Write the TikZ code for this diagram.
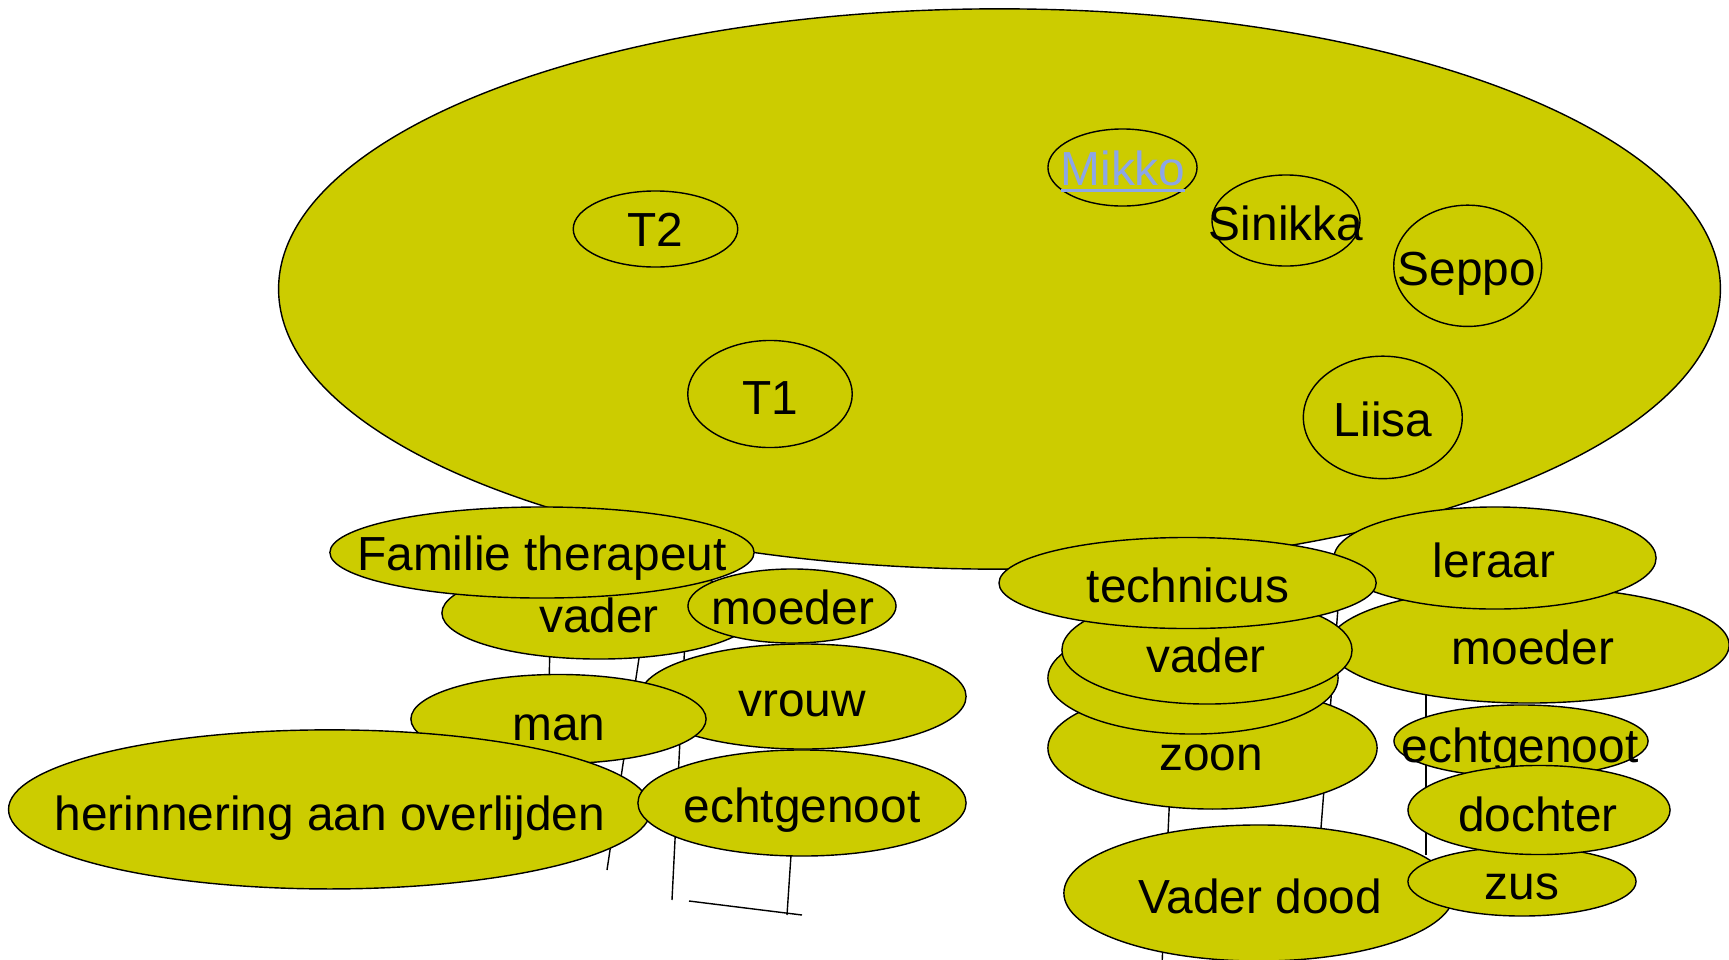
\documentclass[tikz,border=0pt]{standalone}
\usepackage{fontspec}
\setmainfont{Liberation Sans}
\usetikzlibrary{shapes.geometric}
\definecolor{olivefill}{RGB}{204,204,0}
\definecolor{linkblue}{RGB}{140,166,230}
\newcommand\bubble[5]{%
  \node[bub, minimum width=#3cm, minimum height=#4cm] (#1) at #2 {};%
}
\begin{document}
\begin{tikzpicture}[x=0.01cm,y=-0.01cm,
  bub/.style={ellipse, draw, fill=olivefill, line width=0.4pt, inner sep=0pt},
  txt/.style={font=\fontsize{13.6}{16}\selectfont, inner sep=0pt, text=black, text height=0.716em, text depth=0pt, yshift=-0.045cm},
  conn/.style={line width=0.4pt}]
\useasboundingbox (0,0) rectangle (1729,960);
\clip (0,0) rectangle (1729,960);

% connector fragments (drawn behind the bubbles)
\coordinate (l1a) at (550,640); \coordinate (l1b) at (549,690);
\coordinate (l2a) at (641,645); \coordinate (l2b) at (607,870);
\coordinate (l3a) at (685,640); \coordinate (l3b) at (672,900);
\coordinate (l4a) at (689,901); \coordinate (l4b) at (802,915);
\coordinate (l5a) at (792,840); \coordinate (l5b) at (787,915);
\coordinate (r1a) at (1339,595); \coordinate (r1b) at (1321,828);
\coordinate (r2a) at (1170,790); \coordinate (r2b) at (1162,965);
\coordinate (r3a) at (1426,690); \coordinate (r3b) at (1426,855);
\draw[conn] (l1a) -- (l1b);
\draw[conn] (l2a) -- (l2b);
\draw[conn] (l3a) -- (l3b);
\draw[conn] (l4a) -- (l4b);
\draw[conn] (l5a) -- (l5b);
\draw[conn] (r1a) -- (r1b);
\draw[conn] (r2a) -- (r2b);
\draw[conn] (r3a) -- (r3b);

% big ellipse
\bubble{big}{(999.5,289)}{14.41}{5.60}{}

% inner bubbles
\bubble{t2}{(655.5,229)}{1.644}{0.76}{}
\node[txt] (t2t) at (655.5,229) {T2};
\bubble{t1}{(770,394)}{1.644}{1.07}{}
\node[txt] (t1t) at (770,397) {T1};
\bubble{mikko}{(1122.5,167.5)}{1.49}{0.77}{}
\node[txt, text=linkblue] (mikkot) at (1123,168) {\setbox0\hbox{Mikko}\rlap{\rule[-1.9pt]{\wd0}{0.9pt}}\box0};
\bubble{sinikka}{(1286,220.5)}{1.48}{0.91}{}
\node[txt] (sinikkat) at (1286,223) {Sinikka};
\bubble{seppo}{(1467.7,265.8)}{1.478}{1.212}{}
\node[txt] (seppot) at (1467,268) {Seppo};
\bubble{liisa}{(1382.8,417.4)}{1.588}{1.224}{}
\node[txt] (liisat) at (1383,419) {Liisa};

% lower left group
\bubble{vaderL}{(599,613)}{3.14}{0.92}{}
\node[txt] (vaderLt) at (599,615) {vader};
\bubble{famther}{(542,552.5)}{4.24}{0.91}{}
\node[txt] (famthert) at (542,553.5) {Familie therapeut};
\bubble{moederL}{(792,606)}{2.08}{0.74}{}
\node[txt] (moederLt) at (793,607.5) {moeder};
\bubble{vrouw}{(803,696.5)}{3.26}{1.05}{}
\node[txt] (vrouwt) at (802,699) {vrouw};
\bubble{man}{(558.5,719)}{2.95}{0.89}{}
\node[txt] (mant) at (559,723) {man};
\bubble{herin}{(329.7,809.4)}{6.42}{1.59}{}
\node[txt] (herint) at (330,813) {herinnering aan overlijden};
\bubble{echtL}{(802,803)}{3.28}{1.06}{}
\node[txt] (echtLt) at (802,805) {echtgenoot};

% lower right group
\bubble{moederR}{(1529,645)}{4.0}{1.16}{}
\node[txt] (moederRt) at (1533,647) {moeder};
\bubble{leraar}{(1495,558)}{3.22}{1.02}{}
\node[txt] (leraart) at (1494,560) {leraar};
\bubble{zoon}{(1212.5,748)}{3.29}{1.22}{}
\node[txt] (zoont) at (1211,753) {zoon};
\bubble{blank}{(1193,678)}{2.9}{1.12}{}
\bubble{vaderR}{(1207,650)}{2.9}{1.08}{}
\node[txt] (vaderRt) at (1206,655) {vader};
\bubble{techn}{(1187.6,583)}{3.77}{0.91}{}
\node[txt] (technt) at (1188,585.5) {technicus};
\bubble{vdood}{(1259,893)}{3.9}{1.36}{}
\node[txt] (vdoodt) at (1260,896.5) {Vader dood};
\bubble{echtR}{(1521,741)}{2.54}{0.72}{}
\node[txt] (echtRt) at (1520,745) {echtgenoot};
\bubble{zus}{(1522,881.5)}{2.28}{0.69}{}
\node[txt] (zust) at (1522,882) {zus};
\bubble{dochter}{(1539,810)}{2.62}{0.89}{}
\node[txt] (dochtert) at (1538,814) {dochter};
\end{tikzpicture}
\end{document}
